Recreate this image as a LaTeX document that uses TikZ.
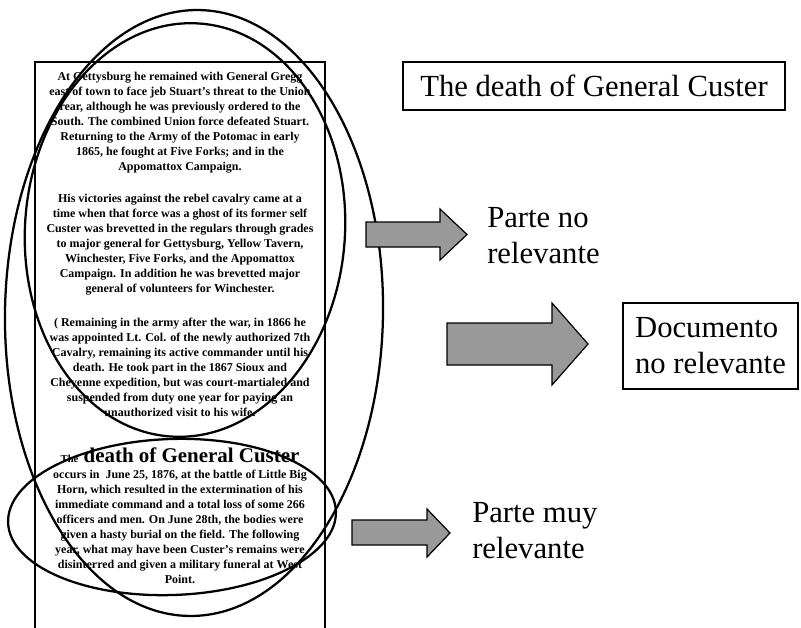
\documentclass[tikz,border=0pt]{standalone}
\usepackage{fontspec}
\setmainfont{Liberation Serif}
\tikzset{
    coltext/.style={align=center, inner sep=0pt, anchor=north, font=\fontsize{9}{11.25}\selectfont\bfseries},
    headtext/.style={inner sep=0pt, anchor=base, font=\fontsize{15.7}{18}\selectfont\bfseries},
    ring/.style={draw=black, line width=1.7pt},
    blockarr/.style={draw=black, line width=0.9pt, fill=black!40},
    tag/.style={align=left, inner sep=0pt, anchor=north west, font=\fontsize{23}{27}\selectfont},
    framebox/.style={draw=black, line width=0.8pt, inner sep=0pt, font=\fontsize{23}{27}\selectfont}
}

\begin{document}
\begin{tikzpicture}[x=0.75pt, y=-0.75pt]
    \useasboundingbox (0,0) rectangle (801,628);
    % document column
    \draw[line width=0.9pt] (35,640) -- (35,62) -- (325,62) -- (325,640);
    \node[coltext] at (180,72) (p1) {At Gettysburg he remained with General Gregg\\east of town to face jeb Stuart's threat to the Union\\rear, although he was previously ordered to the\\South. The combined Union force defeated Stuart.\\Returning to the Army of the Potomac in early\\1865, he fought at Five Forks; and in the\\Appomattox Campaign.};
    \node[coltext] at (180,194) (p2) {His victories against the rebel cavalry came at a\\time when that force was a ghost of its former self\\Custer was brevetted in the regulars through grades\\to major general for Gettysburg, Yellow Tavern,\\Winchester, Five Forks, and the Appomattox\\Campaign. In addition he was brevetted major\\general of volunteers for Winchester.};
    \node[coltext] at (180,318) (p3) {( Remaining in the army after the war, in 1866 he\\was appointed Lt. Col. of the newly authorized 7th\\Cavalry, remaining its active commander until his\\death. He took part in the 1867 Sioux and\\Cheyenne expedition, but was court-martialed and\\suspended from duty one year for paying an\\unauthorized visit to his wife.};
    \node[headtext] at (180,462) (head) {{\fontsize{8}{9}\selectfont The} death of General Custer};
    \node[coltext] at (180,470) (p4) {occurs in\ \ June 25, 1876, at the battle of Little Big\\Horn, which resulted in the extermination of his\\immediate command and a total loss of some 266\\officers and men. On June 28th, the bodies were\\given a hasty burial on the field. The following\\year, what may have been Custer's remains were\\disinterred and given a military funeral at West\\Point.};
    % hand-drawn rings
    \draw[ring, rotate around={-1:(194,313)}] (194,313) ellipse [x radius=189, y radius=303];
    \draw[ring, rotate around={-4:(185,230)}] (185,230) ellipse [x radius=160, y radius=207];
    \draw[ring, rotate around={2:(172,517)}] (172,517) ellipse [x radius=164, y radius=78];
    % right side
    \node[framebox, minimum width=286.5pt, minimum height=36pt] at (594,86) (title) {The death of General Custer};
    \filldraw[blockarr] (366,222) -- (440,222) -- (440,209) -- (467,234.5) -- (440,260) -- (440,247) -- (366,247) -- cycle;
    \node[tag] at (487,207) (nrel) {Parte no\\relevante};
    \filldraw[blockarr] (447,323) -- (552,323) -- (552,303) -- (588,344) -- (552,385) -- (552,365) -- (447,365) -- cycle;
    \node[framebox, align=left, minimum width=131.25pt, minimum height=64.5pt] at (710.5,346) (docnrel) {Documento\\no relevante};
    \filldraw[blockarr] (352,520) -- (427,520) -- (427,509) -- (450,533) -- (427,557) -- (427,545) -- (352,545) -- cycle;
    \node[tag] at (472,502) (mrel) {Parte muy\\relevante};
\end{tikzpicture}
\end{document}
